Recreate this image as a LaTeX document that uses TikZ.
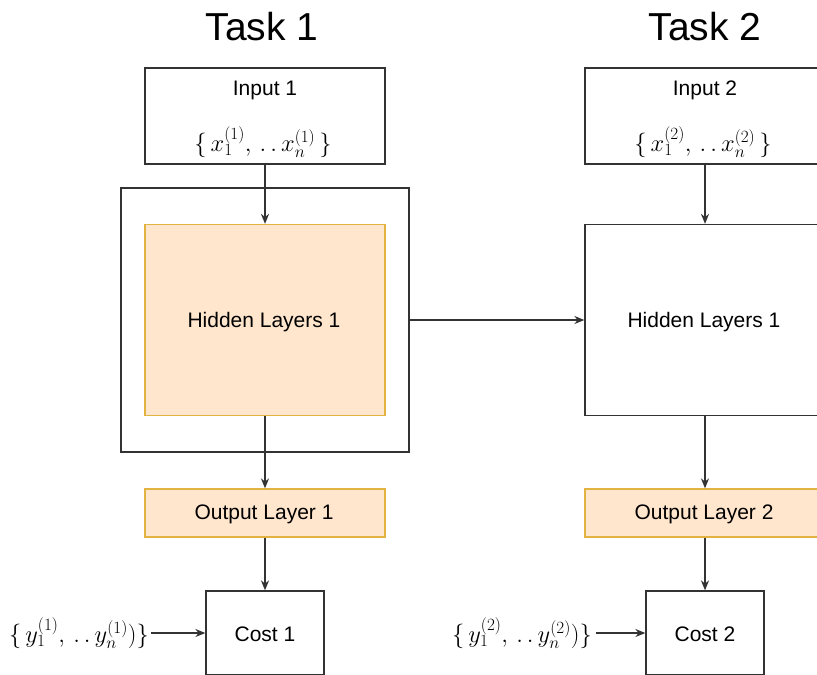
\documentclass[tikz,border=0pt]{standalone}
\usepackage{fix-cm}
\usepackage{fontspec}
\setmainfont{Liberation Sans}
\usetikzlibrary{arrows.meta}
\definecolor{orfill}{HTML}{FFE6CC}
\definecolor{orline}{HTML}{E3B341}
\definecolor{edge}{HTML}{333333}
\begin{document}
\begin{tikzpicture}[x=1pt,y=-1pt,
  box/.style={draw=edge, line width=1.3pt, fill=white, inner sep=0pt},
  obox/.style={draw=orline, fill=orfill, line width=1.3pt, inner sep=0pt},
  lbl/.style={font=\fontsize{21}{25}\selectfont, inner sep=0pt},
  ttl/.style={font=\fontsize{39}{45}\selectfont, inner sep=0pt},
  mth/.style={font=\fontsize{24.5}{29}\selectfont, inner sep=0pt},
  arr/.style={draw=edge, line width=1.3pt, -{Stealth[length=10pt,width=8pt]}}]
\useasboundingbox (0,0) rectangle (817,675);
\clip (0,0) rectangle (817,675);
\fill[white] (0,0) rectangle (817,675);

% titles
\node[ttl] (t1) at (262,27) {Task 1};
\node[ttl] (t2) at (705,27) {Task 2};

% task 1
\node[box, minimum width=240pt, minimum height=96pt] (in1) at (265,116) {};
\node[lbl] (in1t) at (265,90) {Input 1};
\node[mth] (in1m) at (263,142) {$\{\,x_1^{(1)},\,.\,.\,x_n^{(1)}\,\}$};
\node[box, minimum width=288pt, minimum height=264pt] (outer) at (265,320) {};
\node[obox, minimum width=240pt, minimum height=191pt] (hid1) at (265,320) {};
\node[lbl] (hid1t) at (264,322) {Hidden Layers 1};
\node[obox, minimum width=240pt, minimum height=48pt] (out1) at (265,513) {};
\node[lbl] (out1t) at (264,514) {Output Layer 1};
\node[box, minimum width=118pt, minimum height=84pt] (cost1) at (265,633) {};
\node[lbl] (cost1t) at (265,634) {Cost 1};
\node[mth, anchor=east] (y1) at (149,633) {$\{\,y_1^{(1)},\,.\,.\,y_n^{(1)})\}$};

% task 2
\node[box, minimum width=240pt, minimum height=96pt] (in2) at (705,116) {};
\node[lbl] (in2t) at (705,90) {Input 2};
\node[mth] (in2m) at (703,142) {$\{\,x_1^{(2)},\,.\,.\,x_n^{(2)}\,\}$};
\node[box, minimum width=240pt, minimum height=191pt] (hid2) at (705,320) {};
\node[lbl] (hid2t) at (704,322) {Hidden Layers 1};
\node[obox, minimum width=240pt, minimum height=48pt] (out2) at (705,513) {};
\node[lbl] (out2t) at (704,514) {Output Layer 2};
\node[box, minimum width=118pt, minimum height=84pt] (cost2) at (705,633) {};
\node[lbl] (cost2t) at (705,634) {Cost 2};
\node[mth, anchor=east] (y2) at (592,633) {$\{\,y_1^{(2)},\,.\,.\,y_n^{(2)})\}$};

% connectors
\draw[arr] ([xshift=2pt]y1.east) -- (cost1.west);
\draw[arr] ([xshift=4pt]y2.east) -- (cost2.west);
\draw[arr] (in1.south) -- (hid1.north);
\draw[arr] (hid1.south) -- (out1.north);
\draw[arr] (out1.south) -- (cost1.north);
\draw[arr] (outer.east) -- (hid2.west);
\draw[arr] (in2.south) -- (hid2.north);
\draw[arr] (hid2.south) -- (out2.north);
\draw[arr] (out2.south) -- (cost2.north);
\end{tikzpicture}
\end{document}
